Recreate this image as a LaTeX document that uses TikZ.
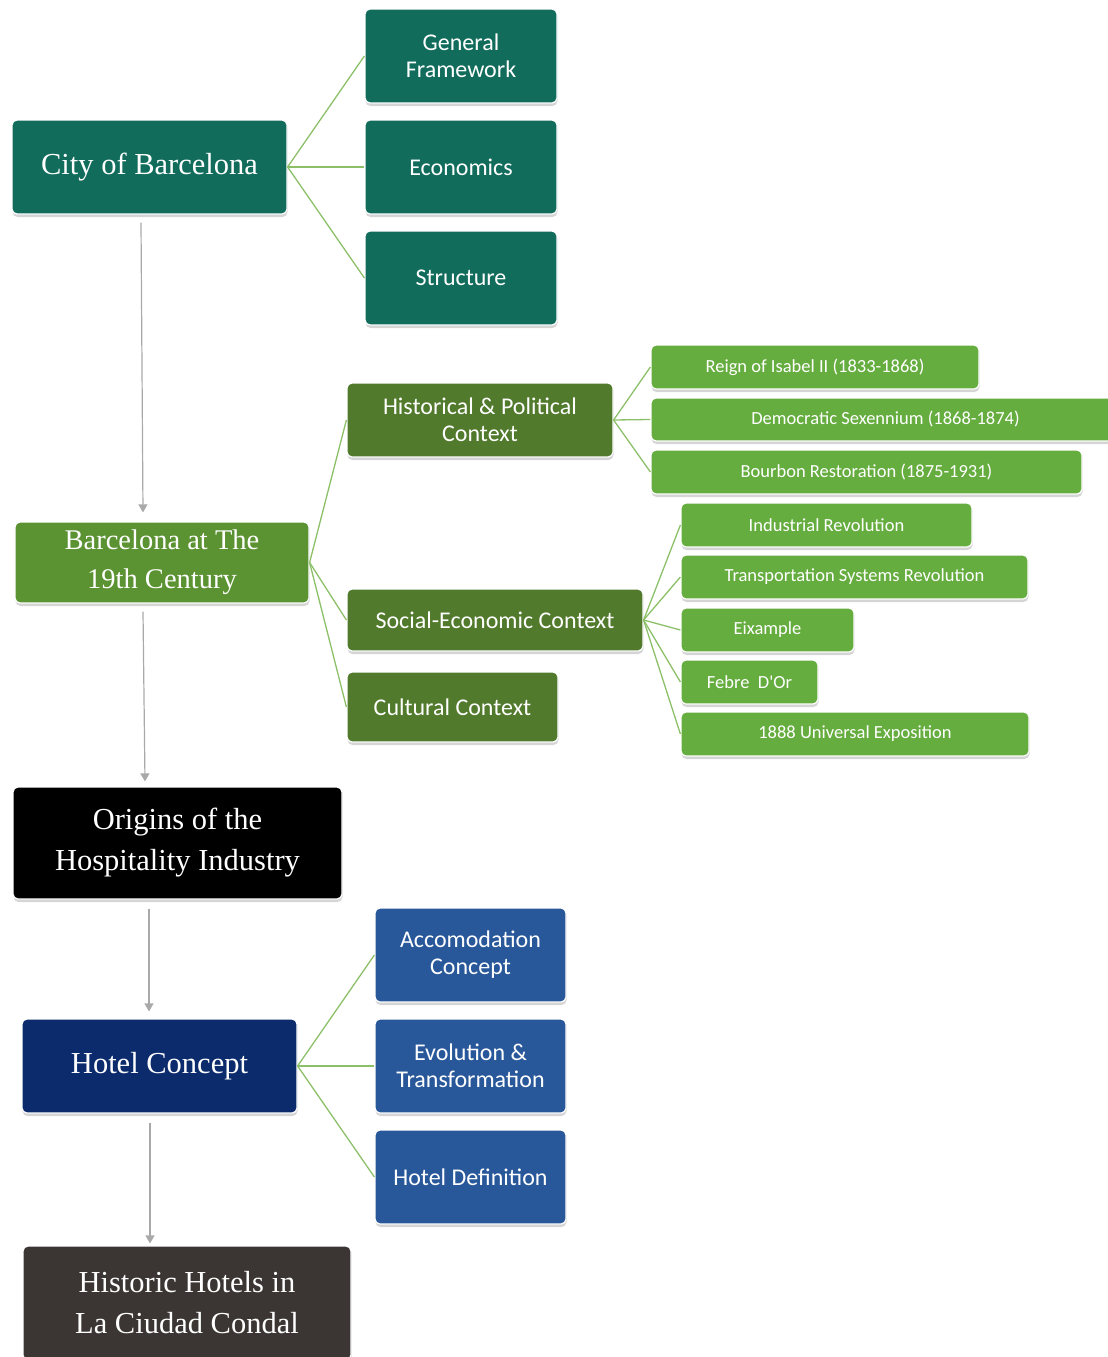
\documentclass[tikz,border=0pt]{standalone}
\usepackage{fontspec}
\setmainfont{Liberation Serif}
\newfontfamily\calfont{Carlito}
\usetikzlibrary{arrows.meta,shadows}
\definecolor{teal1}{HTML}{126C5C}
\definecolor{green19}{HTML}{5B9232}
\definecolor{olive1}{HTML}{517A2C}
\definecolor{bright1}{HTML}{66AD40}
\definecolor{navy1}{HTML}{0B2B6C}
\definecolor{blue1}{HTML}{28589A}
\definecolor{dgray1}{HTML}{3B3634}
\definecolor{lnk}{HTML}{8CC068}
\definecolor{arrgray}{HTML}{A9A9A9}
\tikzset{
  base/.style={rectangle, rounded corners=5pt, draw=white, line width=1.2pt, text=white, align=center, inner sep=2pt,
    drop shadow={shadow xshift=0.5pt, shadow yshift=-3pt, opacity=0.3, fill=black!55}},
  mainbox/.style={base, font=\fontsize{30.5}{41}\selectfont},
  subbox/.style={base, font=\calfont\fontsize{24}{27}\selectfont},
  leafbox/.style={base, font=\calfont\fontsize{18.5}{20}\selectfont},
  link/.style={draw=lnk, line width=1.3pt},
  arr/.style={draw=arrgray, line width=1.2pt, -{Triangle[width=9pt,length=8pt]}}
}
\begin{document}
\begin{tikzpicture}[x=1pt,y=-1pt]
\useasboundingbox (0,0) rectangle (1108,1357);
% top section
\node[mainbox, fill=teal1, minimum width=275pt, minimum height=94pt] (city) at (149.5,167) {City of Barcelona};
\node[subbox, fill=teal1, minimum width=192pt, minimum height=94pt] (gf) at (461,56) {General\\Framework};
\node[subbox, fill=teal1, minimum width=192pt, minimum height=94pt] (eco) at (461,167) {Economics};
\node[subbox, fill=teal1, minimum width=192pt, minimum height=94pt] (struc) at (461,278) {Structure};
\draw[link] (city.east) -- (gf.west);
\draw[link] (city.east) -- (eco.west);
\draw[link] (city.east) -- (struc.west);
% 19th century
\node[mainbox, fill=green19, minimum width=294pt, minimum height=81pt, font=\fontsize{28.5}{39}\selectfont] (b19) at (162,562.5) {Barcelona at The\\19th Century};
\node[subbox, fill=olive1, minimum width=266pt, minimum height=74pt] (hist) at (480,420) {Historical \& Political\\Context};
\node[subbox, fill=olive1, minimum width=296pt, minimum height=62pt] (soc) at (495,620) {Social-Economic Context};
\node[subbox, fill=olive1, minimum width=211pt, minimum height=70pt] (cult) at (452.5,707) {Cultural Context};
\draw[link] (b19.east) -- (hist.west);
\draw[link] (b19.east) -- (soc.west);
\draw[link] (b19.east) -- (cult.west);
% leaves of historical
\node[leafbox, fill=bright1, minimum width=328pt, minimum height=44pt] (reign) at (815,367) {Reign of Isabel II (1833-1868)};
\node[leafbox, fill=bright1, minimum width=469pt, minimum height=43pt] (demo) at (885.5,419.5) {Democratic Sexennium (1868-1874)};
\node[leafbox, fill=bright1, minimum width=431pt, minimum height=44pt] (bour) at (866.5,472) {Bourbon Restoration (1875-1931)};
\draw[link] (hist.east) -- (reign.west);
\draw[link] (hist.east) -- (demo.west);
\draw[link] (hist.east) -- (bour.west);
% leaves of social
\node[leafbox, fill=bright1, minimum width=291pt, minimum height=44pt] (ind) at (826.5,525) {Industrial Revolution};
\node[leafbox, fill=bright1, minimum width=347pt, minimum height=44pt] (trans) at (854.5,577) {Transportation Systems Revolution};
\node[leafbox, fill=bright1, minimum width=173pt, minimum height=44pt] (eix) at (767.5,630) {Eixample};
\node[leafbox, fill=bright1, minimum width=137pt, minimum height=44pt] (feb) at (749.5,682) {Febre\ \ D'Or};
\node[leafbox, fill=bright1, minimum width=348pt, minimum height=44pt] (expo) at (855,734) {1888 Universal Exposition};
\draw[link] (soc.east) -- (ind.west);
\draw[link] (soc.east) -- (trans.west);
\draw[link] (soc.east) -- (eix.west);
\draw[link] (soc.east) -- (feb.west);
\draw[link] (soc.east) -- (expo.west);
% origins
\node[mainbox, fill=black, minimum width=329pt, minimum height=112pt] (orig) at (177.5,843) {Origins of the\\Hospitality Industry};
% hotel
\node[mainbox, fill=navy1, minimum width=275pt, minimum height=94pt] (hotel) at (159.5,1066) {Hotel Concept};
\node[subbox, fill=blue1, minimum width=191pt, minimum height=94pt] (acc) at (470.5,955) {Accomodation\\Concept};
\node[subbox, fill=blue1, minimum width=191pt, minimum height=94pt] (evo) at (470.5,1066) {Evolution \&\\Transformation};
\node[subbox, fill=blue1, minimum width=191pt, minimum height=94pt] (hdef) at (470.5,1177) {Hotel Definition};
\draw[link] (hotel.east) -- (acc.west);
\draw[link] (hotel.east) -- (evo.west);
\draw[link] (hotel.east) -- (hdef.west);
% historic hotels
\node[mainbox, fill=dgray1, minimum width=328pt, minimum height=114pt] (hh) at (187,1303) {Historic Hotels in\\La Ciudad Condal};
% vertical arrows
\draw[arr] ([xshift=-8.5pt,yshift=-8pt]city.south) -- ([xshift=-19pt,yshift=9pt]b19.north);
\draw[arr] ([xshift=-19pt,yshift=-8pt]b19.south) -- ([xshift=-32.5pt,yshift=5pt]orig.north);
\draw[arr] ([xshift=-28.5pt,yshift=-9pt]orig.south) -- ([xshift=-10.5pt,yshift=7pt]hotel.north);
\draw[arr] ([xshift=-9.5pt,yshift=-9pt]hotel.south) -- ([xshift=-37pt,yshift=2pt]hh.north);
\end{tikzpicture}
\end{document}
